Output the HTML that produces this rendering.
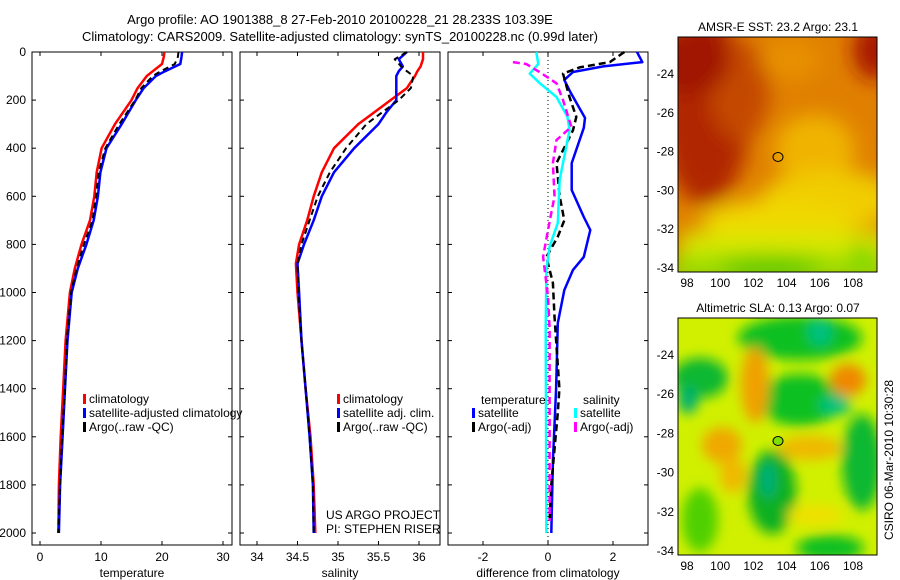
<!DOCTYPE html>
<html><head><meta charset="utf-8"><style>
body{margin:0;background:#fff;}
svg{display:block;font-family:"Liberation Sans",sans-serif;}
</style></head><body>
<svg id="c" width="900" height="580" viewBox="0 0 900 580">
<defs>
<filter id="bl" filterUnits="userSpaceOnUse" x="600" y="0" width="300" height="600"><feGaussianBlur stdDeviation="10"/></filter>
<filter id="bl2" filterUnits="userSpaceOnUse" x="600" y="0" width="300" height="600"><feGaussianBlur stdDeviation="6"/></filter>
<clipPath id="m1"><rect x="678" y="37" width="199" height="235"/></clipPath>
<clipPath id="m2"><rect x="678" y="318" width="199" height="237"/></clipPath>
</defs>
<text x="340" y="24" font-size="13" text-anchor="middle">Argo profile: AO 1901388_8 27-Feb-2010 20100228_21 28.233S 103.39E</text>
<text x="340" y="41" font-size="13" text-anchor="middle">Climatology: CARS2009. Satellite-adjusted climatology: synTS_20100228.nc (0.99d later)</text>
<g id="plots"></g>
<!-- SST map -->
<g clip-path="url(#m1)">
<rect x="678" y="37" width="199" height="235" fill="#e08000"/>
<g filter="url(#bl)">
<ellipse cx="705" cy="110" rx="45" ry="95" fill="#b02800"/>
<ellipse cx="740" cy="90" rx="30" ry="50" fill="#c44a00"/>
<ellipse cx="690" cy="60" rx="40" ry="35" fill="#a01400"/>
<ellipse cx="875" cy="50" rx="22" ry="30" fill="#a81400"/>
<ellipse cx="790" cy="60" rx="30" ry="20" fill="#e89000"/>
<ellipse cx="815" cy="150" rx="40" ry="35" fill="#f0b400"/>
<ellipse cx="830" cy="200" rx="70" ry="30" fill="#f0cc00"/>
<ellipse cx="780" cy="220" rx="80" ry="20" fill="#f0d800"/>
<rect x="680" y="232" width="210" height="30" fill="#d8e800"/>
<rect x="670" y="255" width="220" height="30" fill="#98dc00"/>
<ellipse cx="770" cy="265" rx="50" ry="10" fill="#40c800"/>
<ellipse cx="862" cy="255" rx="10" ry="10" fill="#50d000"/>
</g></g>
<rect x="678" y="37" width="199" height="235" fill="none" stroke="#000"/>
<ellipse cx="778" cy="157" rx="5" ry="4.5" fill="none" stroke="#000"/>
<text x="778" y="31" font-size="12" text-anchor="middle">AMSR-E SST: 23.2 Argo: 23.1</text>
<!-- SLA map -->
<g clip-path="url(#m2)">
<rect x="678" y="318" width="199" height="237" fill="#d0f000"/>
<g filter="url(#bl2)">
<ellipse cx="800" cy="338" rx="62" ry="22" fill="#10c020"/>
<ellipse cx="820" cy="332" rx="12" ry="14" fill="#00c080"/>
<ellipse cx="700" cy="378" rx="28" ry="20" fill="#10b830"/>
<ellipse cx="688" cy="400" rx="10" ry="14" fill="#00b070"/>
<ellipse cx="800" cy="400" rx="42" ry="26" fill="#10c020"/>
<ellipse cx="835" cy="405" rx="16" ry="10" fill="#00c080"/>
<ellipse cx="862" cy="462" rx="20" ry="48" fill="#10b830"/>
<ellipse cx="772" cy="492" rx="24" ry="42" fill="#10b020"/>
<ellipse cx="768" cy="480" rx="7" ry="18" fill="#00b080"/>
<ellipse cx="830" cy="548" rx="34" ry="13" fill="#10c020"/>
<ellipse cx="700" cy="520" rx="18" ry="32" fill="#50d000"/>
<ellipse cx="755" cy="385" rx="14" ry="38" fill="#f0a000"/>
<ellipse cx="722" cy="445" rx="20" ry="18" fill="#f0a800"/>
<ellipse cx="733" cy="475" rx="13" ry="18" fill="#f0b800"/>
<ellipse cx="810" cy="448" rx="32" ry="12" fill="#f0b800"/>
<ellipse cx="848" cy="380" rx="18" ry="16" fill="#f08800"/>
<ellipse cx="815" cy="515" rx="28" ry="10" fill="#f0e000"/>
</g></g>
<rect x="678" y="318" width="199" height="237" fill="none" stroke="#000"/>
<ellipse cx="778" cy="441" rx="5" ry="4.5" fill="#80e000" stroke="#000"/>
<text x="778" y="312" font-size="12" text-anchor="middle">Altimetric SLA: 0.13 Argo: 0.07</text>
<text transform="translate(893,460) rotate(-90)" font-size="12" text-anchor="middle">CSIRO 06-Mar-2010 10:30:28</text>
<text x="326" y="519" font-size="12">US ARGO PROJECT</text>
<text x="326" y="533" font-size="12">PI: STEPHEN RISER</text>
</svg>
<script>
// ---- data ----
const tDepth=[0,20,50,80,100,150,200,300,400,500,600,700,800,900,1000,1200,1400,1600,1800,2000];
const tClim=[20.4,20.3,20,18.5,17.5,16,15,12.3,10.1,9.3,8.9,8.2,6.8,5.7,4.9,4.2,3.8,3.4,3.1,3.0];
const tSat=[23.3,23.2,23,20.5,19,17,15.7,13.4,10.9,9.9,9.5,8.8,7.6,6.2,5.2,4.5,4.1,3.7,3.3,3.1];
const tArgo=[22.7,22.6,22.1,19.8,18.5,16.6,15.6,13,10.7,9.6,9.2,8.6,7.2,6,5.1,4.4,4.1,3.6,3.3,3.0];
const sDepth=[0,30,60,80,100,150,200,250,300,400,500,600,700,800,880,1000,1200,1400,1600,1800,2000];
const sClim=[36.05,36.05,36.02,35.98,35.95,35.85,35.65,35.45,35.25,34.95,34.8,34.7,34.62,34.52,34.48,34.5,34.55,34.6,34.66,34.7,34.72];
const sSat=[35.85,35.75,35.8,35.75,35.72,35.72,35.72,35.6,35.5,35.2,34.95,34.8,34.7,34.58,34.5,34.52,34.55,34.6,34.65,34.69,34.7];
const sArgo=[35.85,35.7,35.78,35.85,35.93,35.9,35.75,35.55,35.35,35.1,34.9,34.75,34.65,34.55,34.5,34.51,34.55,34.6,34.65,34.69,34.7];
const dDepthT=[0,42,60,83,116,170,274,315,462,574,686,740,852,906,990,1127,1400,1700,2000];
const dTSat=[2.74,2.9,1.7,0.77,0.5,0.7,1.14,1.1,0.73,0.73,1.1,1.3,1.1,0.77,0.5,0.3,0.25,0.15,0.1];
const dDepthA=[0,42,64,90,187,270,325,462,600,700,768,852,960,1100,1400,1500,1800,1950];
const dTArgo=[2.35,1.9,0.97,0.46,0.66,0.87,0.77,0.26,0.36,0.5,0.3,-0.05,0.15,0.2,0.35,0.3,0.1,0.05];
const dDepthS=[0,50,90,130,187,270,325,435,530,710,810,906,1150,1500,2000];
const dSSat=[-0.36,-0.3,-0.56,-0.25,0.26,0.6,0.66,0.5,0.36,0.3,0.05,-0.05,-0.07,-0.06,-0.05];
const dDepthM=[42,50,83,130,200,311,366,462,600,740,852,1017,1150,1500,1950];
const dSArgo=[-1.08,-0.67,-0.26,0.26,0.46,0.72,0.26,0.15,0.2,0,-0.15,0,0.05,0.05,0.05];
const depthTicks=[0,200,400,600,800,1000,1200,1400,1600,1800,2000];
const tTicks=[0,10,20,30], sTicks=[34,34.5,35,35.5,36], dTicks=[-2,0,2];
const latTicks=[-24,-26,-28,-30,-32,-34], lonTicks=[98,100,102,104,106,108];
// ---- helpers ----
const NS='http://www.w3.org/2000/svg', G=document.getElementById('plots');
const Y0=52,YS=0.2405; const y=d=>Y0+d*YS;
function mk(t,a,p){const e=document.createElementNS(NS,t);for(const k in a)e.setAttribute(k,a[k]);(p||G).appendChild(e);return e;}
function panel(x0,name,xf,ticks,label,lab){
  const fr=mk('rect',{x:x0,y:Y0,width:200,height:493,fill:'none',stroke:'#000'});
  
  
  depthTicks.forEach(d=>{mk('line',{x1:x0,x2:x0+4,y1:y(d),y2:y(d),stroke:'#000'});mk('line',{x1:x0+196,x2:x0+200,y1:y(d),y2:y(d),stroke:'#000'});
    if(lab){const t=mk('text',{x:x0-6,y:y(d)+4,'font-size':12,'text-anchor':'end'});t.textContent=d;
    
    }});
  ticks.forEach(v=>{const X=xf(v);mk('line',{x1:X,x2:X,y1:Y0,y2:Y0+4,stroke:'#000'});mk('line',{x1:X,x2:X,y1:545,y2:541,stroke:'#000'});
    const t=mk('text',{x:X,y:561,'font-size':12,'text-anchor':'middle'});t.textContent=v;
    
    });
  const l=mk('text',{x:x0+100,y:577,'font-size':12,'text-anchor':'middle'});l.textContent=label;
  
  
}
function line(xf,ds,vs,col,dash,w,name){
  const p=mk('path',{d:vs.map((v,i)=>(i?'L':'M')+xf(v).toFixed(1)+','+y(ds[i]).toFixed(1)).join(''),fill:'none',stroke:col,'stroke-width':w||2.5,'stroke-dasharray':dash||'none','stroke-linejoin':'round'});
  
  
}
function leg(x,yy,col,txt,name){mk('rect',{x:x,y:yy-9,width:3,height:10,fill:col});const t=mk('text',{x:x+6,y:yy,'font-size':12});t.textContent=txt;
  
  }
const xT=v=>40+v*6.1, xS=v=>257+(v-34)*81, xD=v=>548+v*32.5;
panel(32,'temperature',xT,tTicks,'temperature',true);
panel(240,'salinity',xS,sTicks,'salinity',false);
panel(448,'difference',xD,dTicks,'difference from climatology',false);
mk('line',{x1:548,x2:548,y1:Y0,y2:545,stroke:'#000','stroke-dasharray':'1,3'});
line(xT,tDepth,tClim,'#f00',null,2.5,'temp-climatology-line');
line(xT,tDepth,tSat,'#00f',null,2.5,'temp-satellite-line');
line(xT,tDepth,tArgo,'#000','6,4',2,'temp-argo-line');
line(xS,sDepth,sClim,'#f00',null,2.5,'sal-climatology-line');
line(xS,sDepth,sSat,'#00f',null,2.5,'sal-satellite-line');
line(xS,sDepth,sArgo,'#000','6,4',2,'sal-argo-line');
line(xD,dDepthT,dTSat,'#00f',null,2.5,'diff-temp-satellite-line');
line(xD,dDepthA,dTArgo,'#000','7,4',2.5,'diff-temp-argo-line');
line(xD,dDepthS,dSSat,'#0ff',null,2.5,'diff-sal-satellite-line');
line(xD,dDepthM,dSArgo,'#f0f','7,4',2.5,'diff-sal-argo-line');
leg(83,403,'#f00','climatology','legend-climatology');
leg(83,417,'#00f','satellite-adjusted climatology','legend-satellite');
leg(83,431,'#000','Argo(..raw -QC)','legend-argo');
leg(337,403,'#f00','climatology','legend2-climatology');
leg(337,417,'#00f','satellite adj. clim.','legend2-satellite');
leg(337,431,'#000','Argo(..raw -QC)','legend2-argo');
let tt=mk('text',{x:481,y:404,'font-size':12});tt.textContent='temperature';


tt=mk('text',{x:583,y:404,'font-size':12});tt.textContent='salinity';


leg(472,417,'#00f','satellite','legend3-temp-satellite');
leg(472,431,'#000','Argo(-adj)','legend3-temp-argo');
leg(574,417,'#0ff','satellite','legend3-sal-satellite');
leg(574,431,'#f0f','Argo(-adj)','legend3-sal-argo');
// map axes
function mapAx(top,bot,latY){
  const lat=v=>latY[0]+(latY[1]-latY[0])*(v+24)/(-10), lon=v=>687+(v-98)*16.6;
  latTicks.forEach(v=>{const Y=lat(v);mk('line',{x1:877,x2:873,y1:Y,y2:Y,stroke:'#000'});const t=mk('text',{x:674,y:Y+4,'font-size':12,'text-anchor':'end'});t.textContent=v;
    
    });
  lonTicks.forEach(v=>{const X=lon(v);mk('line',{x1:X,x2:X,y1:bot,y2:bot-4,stroke:'#000'});const t=mk('text',{x:X,y:bot+15,'font-size':12,'text-anchor':'middle'});t.textContent=v;
    
    });
}
mapAx(37,272,[74,268]);
mapAx(318,555,[355,551]);
</script>
</body></html>
